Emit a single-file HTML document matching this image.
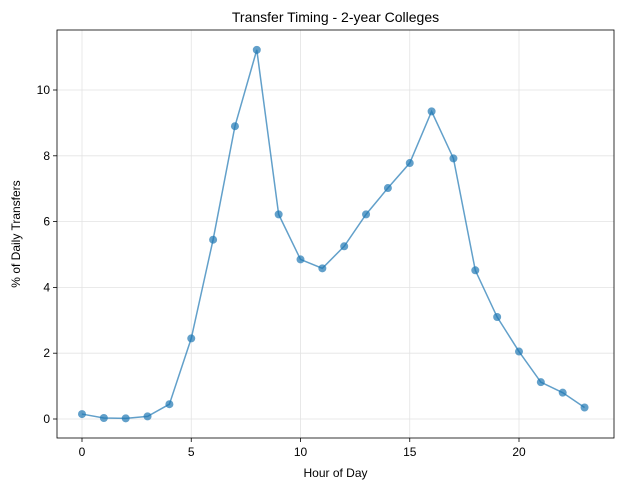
<!DOCTYPE html>
<html><head><meta charset="utf-8"><style>
body{margin:0;background:#fff;}
svg text{font-family:"Liberation Sans","DejaVu Sans",sans-serif;fill:#000;}
</style></head><body>
<svg id="chart" width="621" height="490"></svg>
<script>
const hours=[0,1,2,3,4,5,6,7,8,9,10,11,12,13,14,15,16,17,18,19,20,21,22,23];
const pct=[0.15,0.03,0.02,0.08,0.45,2.45,5.45,8.9,11.22,6.22,4.85,4.58,5.25,6.22,7.02,7.78,9.35,7.92,4.52,3.1,2.05,1.12,0.8,0.35];
const xTicks=[0,5,10,15,20];
const yTicks=[0,2,4,6,8,10];
const L=57,R=614,T=30,B=438;
const x=v=>82+v*21.85;
const y=v=>419-v*32.9;
const svg=document.getElementById('chart');
const NS='http://www.w3.org/2000/svg';
function mk(t,a,p){const e=document.createElementNS(NS,t);for(const k in a)e.setAttribute(k,a[k]);(p||svg).appendChild(e);return e;}
xTicks.forEach(v=>{const g=mk('line',{x1:x(v),x2:x(v),y1:T,y2:B,stroke:'#e3e3e3','stroke-width':0.8});

});
yTicks.forEach(v=>{const g=mk('line',{x1:L,x2:R,y1:y(v),y2:y(v),stroke:'#e3e3e3','stroke-width':0.8});

});
const pl=mk('polyline',{points:hours.map((h,i)=>x(h)+','+y(pct[i])).join(' '),fill:'none',stroke:'#1f77b4','stroke-opacity':0.7,'stroke-width':1.5});


hours.forEach((h,i)=>{const c=mk('circle',{cx:x(h),cy:y(pct[i]),r:4,fill:'#1f77b4','fill-opacity':0.7});

});
const f=mk('rect',{x:L,y:T,width:R-L,height:B-T,fill:'none',stroke:'#000','stroke-width':0.8});


xTicks.forEach(v=>{mk('line',{x1:x(v),x2:x(v),y1:B,y2:B+4,stroke:'#000','stroke-width':0.8});
const t=mk('text',{x:x(v),y:B+18,'text-anchor':'middle','font-size':12});t.textContent=v;

});
yTicks.forEach(v=>{mk('line',{x1:L-4,x2:L,y1:y(v),y2:y(v),stroke:'#000','stroke-width':0.8});
const t=mk('text',{x:L-7,y:y(v)+4,'text-anchor':'end','font-size':12});t.textContent=v;

});
const title=mk('text',{x:(L+R)/2,y:22,'text-anchor':'middle','font-size':14});title.textContent='Transfer Timing - 2-year Colleges';


const xt=mk('text',{x:(L+R)/2,y:477,'text-anchor':'middle','font-size':12});xt.textContent='Hour of Day';


const yt=mk('text',{x:0,y:0,'text-anchor':'middle','font-size':12,transform:'translate(20,'+((T+B)/2)+') rotate(-90)'});yt.textContent='% of Daily Transfers';


</script>
</body></html>
